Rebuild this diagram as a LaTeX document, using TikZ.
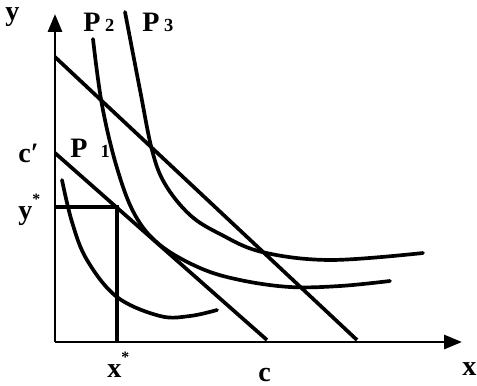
\documentclass[tikz,border=0pt]{standalone}
\usepackage{fontspec}
\setmainfont{Liberation Serif}
\usetikzlibrary{arrows.meta}
\begin{document}
\begin{tikzpicture}[x=0.2mm,y=-0.2mm]
        \tikzset{axis/.style={line width=1.7pt,-{Triangle[length=3.6mm,width=2.8mm]}},
          budget/.style={line width=2.1pt},
          indiff/.style={line width=2.1pt,line cap=round},
          legend/.style={font=\fontsize{16}{18}\selectfont\bfseries,inner sep=0pt,anchor=base west}}
        \newcommand{\lowsub}[1]{{\fontsize{10.5}{10.5}\selectfont #1}}
        \newcommand{\upstar}{\raisebox{1.1ex}{\fontsize{9}{9}\selectfont *}}
        \useasboundingbox (0,0) rectangle (477,386);

        %% Draw the axes
        \coordinate (origin) at (55,342);
        \coordinate (ytip) at (55,14);
        \coordinate (xtip) at (462,342);
        \draw[axis] (origin) -- (ytip);
        \draw[axis] (origin) -- (xtip);

        %% Draw the two budget lines, the inner one runs from c' to c
        \coordinate (cprime) at (55,153);
        \coordinate (cend) at (267,340);
        \coordinate (outtop) at (55,57);
        \coordinate (outend) at (357,340);
        \draw[budget] (cprime) -- (cend);
        \draw[budget] (outtop) -- (outend);

        %% Draw the indifference curves
        \draw[indiff] plot [smooth, tension=0.6]
          coordinates {(62,180) (72,222) (87,260) (117,297) (160,316) (190,316) (217,310)};
        \draw[indiff] plot [smooth, tension=0.6]
          coordinates {(93,39) (102,105) (117,168) (135,215) (160,245) (200,268)
            (240,280) (290,287) (340,286) (390,281)};
        \draw[indiff] plot [smooth, tension=0.6]
          coordinates {(125,12) (140,90) (152,150) (165,184) (190,215) (220,234)
            (262,252) (330,260) (423,253)};

        %% Mark the optimum (x*, y*)
        \coordinate (opt) at (117,207);
        \coordinate (ystar) at (55,207);
        \coordinate (xstar) at (117,342);
        \draw[budget] (ystar) -- (opt) -- (xstar);

        %% Write the labels
        \node[legend] (ylab) at (5,21) {y};
        \node[legend] (xlab) at (462,375) {x};
        \node[legend] (xslab) at (107,377) {x\upstar};
        \node[legend] (clab) at (258,381) {c};
        \node[legend] (cplab) at (18,162) {c{\char"2032}};
        \node[legend] (yslab) at (18,219) {y\upstar};
        \node[legend] (p1lab) at (70,157) {P\hspace{2.6mm}\lowsub{1}};
        \node[legend] (p2lab) at (83,32) {P\hspace{0.9mm}\lowsub{2}};
        \node[legend] (p3lab) at (142,32) {P\hspace{0.9mm}\lowsub{3}};

      \end{tikzpicture}
\end{document}
